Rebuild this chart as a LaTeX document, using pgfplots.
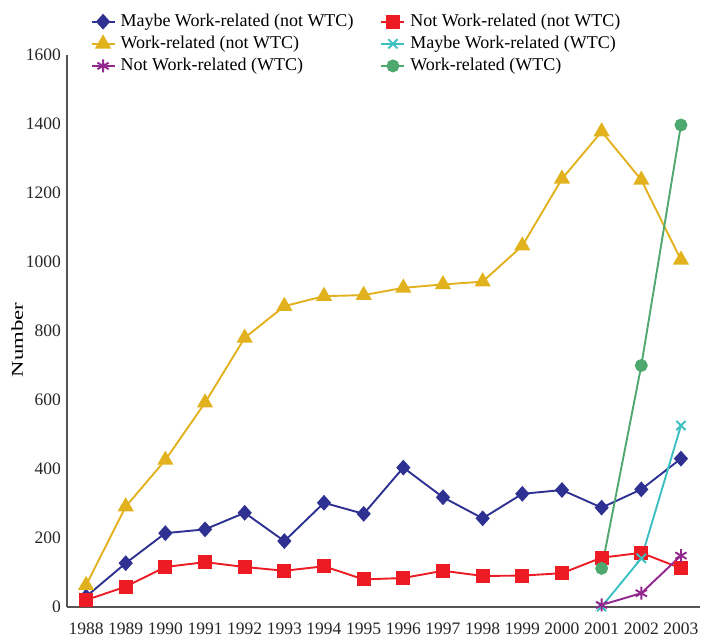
\documentclass[border=0pt]{standalone}
\usepackage{pgfplots}
\pgfplotsset{compat=1.18}
\usepackage{fontspec}
\setmainfont{Liberation Serif}

\definecolor{cBlue}{HTML}{2E3192}
\definecolor{cRed}{HTML}{ED1C24}
\definecolor{cGold}{HTML}{E2B21E}
\definecolor{cCyan}{HTML}{3CBFC0}
\definecolor{cPurple}{HTML}{92278F}
\definecolor{cGreen}{HTML}{4FA86E}
\definecolor{cAxis}{HTML}{555555}

\begin{document}
\fontsize{17.5}{21}\selectfont
\begin{tikzpicture}
\begin{axis}[
    width=633pt, height=552pt, scale only axis,
    xmin=1987.52, xmax=2003.48, ymin=0, ymax=1600,
    axis x line*=bottom, axis y line*=left,
    axis line style={-, cAxis, line width=1.3pt},
    xtick={1988,...,2003}, ytick={0,200,...,1600},
    major tick length=0pt,
    /pgf/number format/1000 sep={},
    /pgf/number format/assume math mode=true,
    tick label style={font=\fontsize{17.5}{21}\selectfont, text=black!85},
    xticklabel style={yshift=-10pt},
    ylabel={Number},
    ylabel style={font=\fontsize{16.5}{20}\selectfont, xscale=1.38,
        at={(ticklabel cs:0.484)}},
    ylabel shift=-9pt,
    clip=false,
    every axis plot/.append style={line width=1.9pt, mark options={solid}},
    legend columns=2,
    legend cell align=left,
    legend style={draw=none, fill=none, inner sep=0pt,
        at={(axis description cs:0.037,1.078)}, anchor=north west,
        font=\fontsize{18}{21}\selectfont,
        /tikz/every odd column/.append style={column sep=3pt},
        /tikz/every even column/.append style={column sep=25pt},
        row sep=3pt},
    legend image code/.code={\draw[mark repeat=2, mark phase=2, #1]
        plot coordinates {(0pt,0pt)(11.5pt,0pt)(23pt,0pt)};},
]
% Maybe Work-related (not WTC)
\addplot[cBlue, mark=diamond*, mark size=6.5pt, mark options={xscale=1.2}] coordinates {
(1988,30)(1989,127)(1990,214)(1991,225)(1992,273)(1993,191)(1994,302)(1995,270)
(1996,404)(1997,318)(1998,257)(1999,328)(2000,339)(2001,288)(2002,341)(2003,430)};
% Not Work-related (not WTC)
\addplot[cRed, mark=square*, mark size=6pt] coordinates {
(1988,20)(1989,59)(1990,116)(1991,130)(1992,116)(1993,105)(1994,118)(1995,80)
(1996,84)(1997,105)(1998,90)(1999,91)(2000,98)(2001,143)(2002,157)(2003,112)};
% Work-related (not WTC)
\addplot[cGold, mark=triangle*, mark size=7.5pt] coordinates {
(1988,63)(1989,291)(1990,426)(1991,592)(1992,780)(1993,872)(1994,901)(1995,904)
(1996,925)(1997,935)(1998,943)(1999,1047)(2000,1241)(2001,1378)(2002,1238)(2003,1006)};
% Maybe Work-related (WTC)
\addplot[cCyan, mark=x, mark size=6.5pt] coordinates {
(2001,1)(2002,141)(2003,526)};
% Not Work-related (WTC)
\addplot[cPurple, mark=asterisk, mark size=6.5pt] coordinates {
(2001,6)(2002,40)(2003,149)};
% Work-related (WTC)
\addplot[cGreen, mark=*, mark size=5.5pt] coordinates {
(2001,112)(2002,700)(2003,1397)};
\legend{Maybe Work-related (not WTC),Not Work-related (not WTC),
Work-related (not WTC),Maybe Work-related (WTC),
Not Work-related (WTC),Work-related (WTC)}
% page margins as in the reference
\path (rel axis cs:0,0) ++(-67pt,-31pt) (rel axis cs:1,1) ++(15pt,55pt);
\end{axis}
\end{tikzpicture}
\end{document}
